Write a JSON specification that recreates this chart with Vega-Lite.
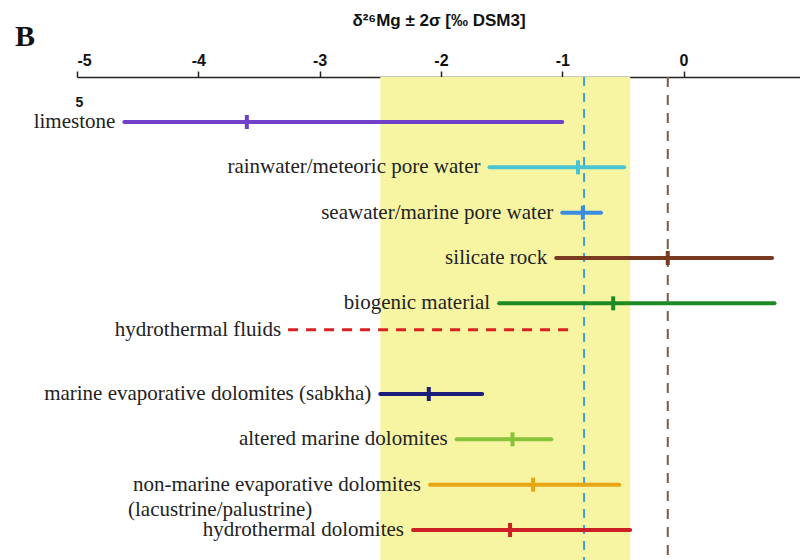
{
  "$schema": "https://vega.github.io/schema/vega-lite/v6.json",
  "width": 723,
  "height": 483,
  "autosize": {"type": "none"},
  "padding": {"left": 77, "top": 77, "right": 0, "bottom": 0},
  "background": "white",
  "config": {"view": {"stroke": null}},
  "title": {"text": "B", "anchor": "start", "frame": "group", "font": "Liberation Serif", "fontSize": 30, "fontWeight": "bold", "color": "#111", "dx": -62, "dy": 45},
  "datasets": {
    "rows": [
      {"name": "limestone", "lo": -4.61, "hi": -1.0, "mid": -3.6, "note": "5"},
      {"name": "rainwater/meteoric pore water", "lo": -1.6, "hi": -0.49, "mid": -0.87},
      {"name": "seawater/marine pore water", "lo": -1.0, "hi": -0.68, "mid": -0.83},
      {"name": "silicate rock", "lo": -1.05, "hi": 0.73, "mid": -0.13},
      {"name": "biogenic material", "lo": -1.52, "hi": 0.75, "mid": -0.58},
      {"name": "hydrothermal fluids", "lo": -3.26, "hi": -0.92, "mid": null},
      {"name": "marine evaporative dolomites (sabkha)", "lo": -2.5, "hi": -1.66, "mid": -2.1},
      {"name": "altered marine dolomites", "lo": -1.87, "hi": -1.09, "mid": -1.41},
      {"name": "non-marine evaporative dolomites", "label2": "(lacustrine/palustrine)", "lo": -2.09, "hi": -0.53, "mid": -1.24},
      {"name": "hydrothermal dolomites", "lo": -2.23, "hi": -0.44, "mid": -1.43}
    ],
    "band": [{"lo": -2.5, "hi": -0.44}],
    "ref1": [{"v": -0.82}],
    "ref2": [{"v": -0.13}]
  },
  "layer": [
    {
      "data": {"name": "band"},
      "mark": {"type": "rect", "color": "#f7f5a2"},
      "encoding": {
        "x": {
          "field": "lo", "type": "quantitative",
          "scale": {"domain": [-5, 0.96], "nice": false, "zero": false},
          "axis": {
            "orient": "top", "values": [-5, -4, -3, -2, -1, 0],
            "labelExpr": "'' + datum.value",
            "title": "δ²⁶Mg ± 2σ [‰ DSM3]",
            "titleFont": "Liberation Sans", "titleFontSize": 17, "titleFontWeight": "bold", "titleColor": "#111",
            "titlePadding": 23,
            "labelFont": "Liberation Sans", "labelFontSize": 16, "labelFontWeight": "bold", "labelColor": "#111",
            "labelPadding": 3,
            "domainColor": "#222", "domainWidth": 1.5,
            "tickColor": "#222", "tickSize": 6, "tickWidth": 1.5,
            "grid": false
          }
        },
        "x2": {"field": "hi"}
      }
    },
    {
      "data": {"name": "ref1"},
      "mark": {"type": "rule", "color": "#3aa2d6", "strokeWidth": 2, "strokeDash": [9, 7]},
      "encoding": {"x": {"field": "v", "type": "quantitative"}}
    },
    {
      "data": {"name": "ref2"},
      "mark": {"type": "rule", "color": "#7d5a48", "strokeWidth": 2, "strokeDash": [10, 8]},
      "encoding": {"x": {"field": "v", "type": "quantitative"}}
    },
    {
      "data": {"name": "rows"},
      "encoding": {
        "y": {
          "field": "name", "type": "nominal", "sort": null,
          "scale": {
            "type": "point", "padding": 0,
            "domain": ["limestone", "rainwater/meteoric pore water", "seawater/marine pore water", "silicate rock", "biogenic material", "hydrothermal fluids", "marine evaporative dolomites (sabkha)", "altered marine dolomites", "non-marine evaporative dolomites", "hydrothermal dolomites"],
            "range": [45, 453]
          },
          "axis": null
        }
      },
      "layer": [
        {
          "transform": [{"filter": "datum.mid != null"}],
          "mark": {"type": "rule", "strokeWidth": 4, "strokeCap": "round"},
          "encoding": {
            "x": {"field": "lo", "type": "quantitative"},
            "x2": {"field": "hi"},
            "color": {
              "field": "name", "type": "nominal", "legend": null,
              "scale": {
                "domain": ["limestone", "rainwater/meteoric pore water", "seawater/marine pore water", "silicate rock", "biogenic material", "hydrothermal fluids", "marine evaporative dolomites (sabkha)", "altered marine dolomites", "non-marine evaporative dolomites", "hydrothermal dolomites"],
                "range": ["#7040c8", "#48c4d4", "#3a8de0", "#7a3a22", "#1e8a24", "#e02828", "#1c1c7a", "#86c23a", "#e8a514", "#cc2026"]
              }
            }
          }
        },
        {
          "transform": [{"filter": "datum.mid == null"}],
          "mark": {"type": "rule", "strokeWidth": 3, "strokeDash": [10, 8], "color": "#d82222", "yOffset": -19},
          "encoding": {
            "x": {"field": "lo", "type": "quantitative"},
            "x2": {"field": "hi"}
          }
        },
        {
          "transform": [{"filter": "datum.mid != null"}],
          "mark": {"type": "tick", "size": 14, "thickness": 4, "opacity": 1},
          "encoding": {
            "x": {"field": "mid", "type": "quantitative"},
            "color": {"field": "name", "type": "nominal", "legend": null}
          }
        },
        {
          "transform": [{"filter": "datum.mid != null"}],
          "mark": {"type": "text", "align": "right", "baseline": "middle", "dx": -9, "font": "Liberation Serif", "fontSize": 21, "color": "#222"},
          "encoding": {
            "x": {"field": "lo", "type": "quantitative"},
            "text": {"field": "name"}
          }
        },
        {
          "transform": [{"filter": "datum.mid == null"}],
          "mark": {"type": "text", "align": "right", "baseline": "middle", "dx": -7, "dy": -19, "font": "Liberation Serif", "fontSize": 21, "color": "#222"},
          "encoding": {
            "x": {"field": "lo", "type": "quantitative"},
            "text": {"field": "name"}
          }
        },
        {
          "transform": [{"filter": "datum.label2"}],
          "mark": {"type": "text", "align": "left", "baseline": "middle", "dx": -302, "dy": 25, "font": "Liberation Serif", "fontSize": 21, "color": "#222"},
          "encoding": {
            "x": {"field": "lo", "type": "quantitative"},
            "text": {"field": "label2"}
          }
        },
        {
          "transform": [{"filter": "datum.note"}],
          "mark": {"type": "text", "align": "center", "baseline": "middle", "dx": -45, "dy": -19, "font": "Liberation Sans", "fontSize": 14, "fontWeight": "bold", "color": "#111"},
          "encoding": {
            "x": {"field": "lo", "type": "quantitative"},
            "text": {"field": "note"}
          }
        }
      ]
    }
  ]
}
